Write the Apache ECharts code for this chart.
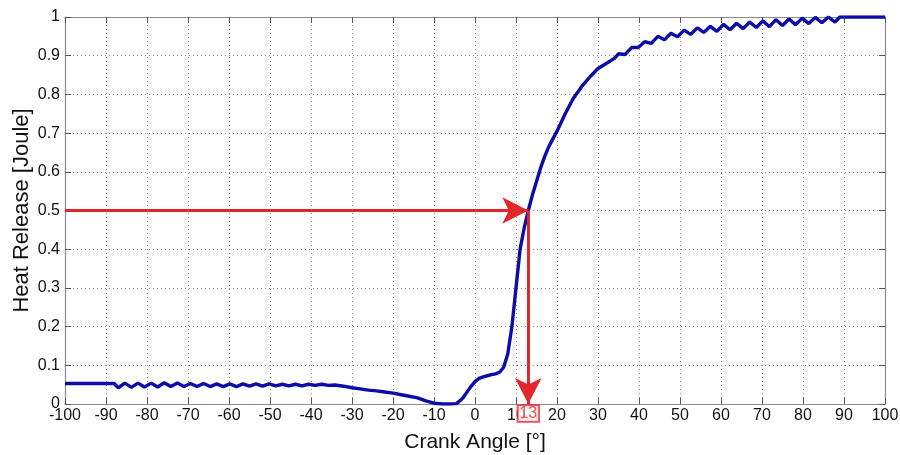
<!DOCTYPE html>
<html>
<head>
<meta charset="utf-8">
<script src="https://cdn.jsdelivr.net/npm/echarts@6/dist/echarts.min.js"></script>
<style>
  html, body { margin: 0; padding: 0; background: #fff; }
  #chart { width: 900px; height: 455px; }
</style>
</head>
<body>
<div id="chart"></div>
<script>
// crank angle [deg] and heat release
const crankAngle = [
  -100, -88, -87, -85.4, -83.8, -82.2, -80.6, -79, -77.4, -75.8, -74.2, -72.6, -71, -69.4,
  -67.8, -66.2, -64.6, -63, -61.4, -59.8, -58.2, -56.6, -55, -53.4, -51.8, -50.2, -48.6, -47,
  -45.4, -43.8, -42.2, -40.6, -39, -37.4, -35.8, -34.2, -32, -30, -28, -26, -24, -22, -20,
  -18, -16, -14, -12, -10, -8, -6, -4.5, -3, -2, -1, 0, 1, 2, 3, 4, 5, 6, 7, 8, 9, 10, 11,
  12, 13, 14, 15, 16, 17, 18, 19, 20, 22, 24, 26, 28, 30, 32, 34, 35, 36.6, 38.2, 39.8,
  41.4, 43, 44.6, 46.2, 47.8, 49.4, 51, 52.6, 54.2, 55.8, 57.4, 59, 60.6, 62.2, 63.8, 65.4,
  67, 68.6, 70.2, 71.8, 73.4, 75, 76.6, 78.2, 79.8, 81.4, 83, 84.6, 86.2, 87.8, 89, 100
];
const heatRelease = [
  0.053, 0.053, 0.042, 0.054, 0.043, 0.054, 0.044, 0.054, 0.044, 0.055, 0.045, 0.054, 0.045, 0.053,
  0.045, 0.053, 0.045, 0.052, 0.045, 0.052, 0.045, 0.052, 0.046, 0.052, 0.046, 0.052, 0.047, 0.051,
  0.047, 0.051, 0.047, 0.051, 0.048, 0.051, 0.048, 0.049, 0.046, 0.042, 0.039, 0.036, 0.034, 0.031, 0.028,
  0.024, 0.02, 0.016, 0.008, 0.002, 0, 0, 0.001, 0.015, 0.03, 0.045, 0.058, 0.066, 0.07, 0.073, 0.076, 0.078, 0.082, 0.095, 0.13, 0.2, 0.3, 0.4,
  0.455, 0.5, 0.54, 0.575, 0.61, 0.64, 0.665, 0.685, 0.705, 0.75, 0.79, 0.82, 0.845, 0.867, 0.88, 0.893, 0.905, 0.903, 0.921, 0.921,
  0.936, 0.932, 0.95, 0.941, 0.958, 0.949, 0.966, 0.955, 0.972, 0.96, 0.976, 0.963, 0.981, 0.967, 0.984, 0.97,
  0.987, 0.973, 0.99, 0.975, 0.993, 0.978, 0.995, 0.98, 0.997, 0.983, 0.999, 0.985, 1.0, 0.987, 1.0, 1.0
];

// 50% heat release point
const halfHeat = 0.5;
const halfAngle = 13;

const fontFamily = '"Liberation Sans", Arial, sans-serif';
const blue = '#0c0ca6';
const red = '#e3262b';

const chart = echarts.init(document.getElementById('chart'));

const gridLine = { show: true, lineStyle: { color: '#8a8a8a', type: [1, 3], width: 1 } };
const boxLine = { show: true, onZero: false, lineStyle: { color: '#8c8c8c', width: 1.2 } };
const tick = { show: true, inside: true, length: 6, lineStyle: { color: '#555', width: 1 } };

chart.setOption({
  animation: false,
  backgroundColor: '#fff',
  grid: { left: 65, right: 15, top: 17, bottom: 51, outerBoundsMode: 'none', containLabel: false },
  xAxis: [
    {
      type: 'value', min: -100, max: 100, interval: 10,
      name: 'Crank Angle [°]', nameLocation: 'middle', nameGap: 28, nameMoveOverlap: false,
      nameTextStyle: { fontSize: 21, color: '#111', fontFamily },
      axisLine: boxLine, axisTick: tick, splitLine: gridLine,
      axisLabel: { fontSize: 16, color: '#111', fontFamily, margin: 4 }
    },
    {
      type: 'value', min: -100, max: 100, interval: 10, position: 'top',
      axisLine: boxLine, axisTick: tick, splitLine: { show: false }, axisLabel: { show: false }
    }
  ],
  yAxis: [
    {
      type: 'value', min: 0, max: 1, interval: 0.1,
      name: 'Heat Release [Joule]', nameLocation: 'middle', nameGap: 32, nameMoveOverlap: false,
      nameTextStyle: { fontSize: 22, color: '#111', fontFamily },
      axisLine: boxLine, axisTick: tick, splitLine: gridLine,
      axisLabel: { fontSize: 16, color: '#111', fontFamily, margin: 5,
        formatter: v => String(Math.round(v * 10) / 10) }
    },
    {
      type: 'value', min: 0, max: 1, interval: 0.1, position: 'right',
      axisLine: boxLine, axisTick: tick, splitLine: { show: false }, axisLabel: { show: false }
    }
  ],
  series: [
    {
      type: 'line',
      data: crankAngle.map((a, i) => [a, heatRelease[i]]),
      showSymbol: false,
      lineStyle: { color: blue, width: 3.4 },
      z: 3
    },
    {
      type: 'scatter',
      data: [[halfAngle, 0]],
      symbolSize: 0,
      silent: true,
      z: 5,
      label: {
        show: true, position: 'bottom', distance: 2,
        formatter: String(halfAngle),
        color: red, fontSize: 16, fontFamily,
        borderColor: red, borderWidth: 1.8, padding: [0, 1, -1, 1], backgroundColor: '#fff'
      },
      markLine: {
        silent: true,
        symbol: ['none', 'arrow'],
        symbolSize: [20, 26],
        label: { show: false },
        lineStyle: { color: red, width: 3, type: 'solid' },
        data: [
          [{ coord: [-100, halfHeat] }, { coord: [halfAngle, halfHeat] }],
          [{ coord: [halfAngle, halfHeat] }, { coord: [halfAngle, 0] }]
        ]
      }
    }
  ]
});
</script>
</body>
</html>
